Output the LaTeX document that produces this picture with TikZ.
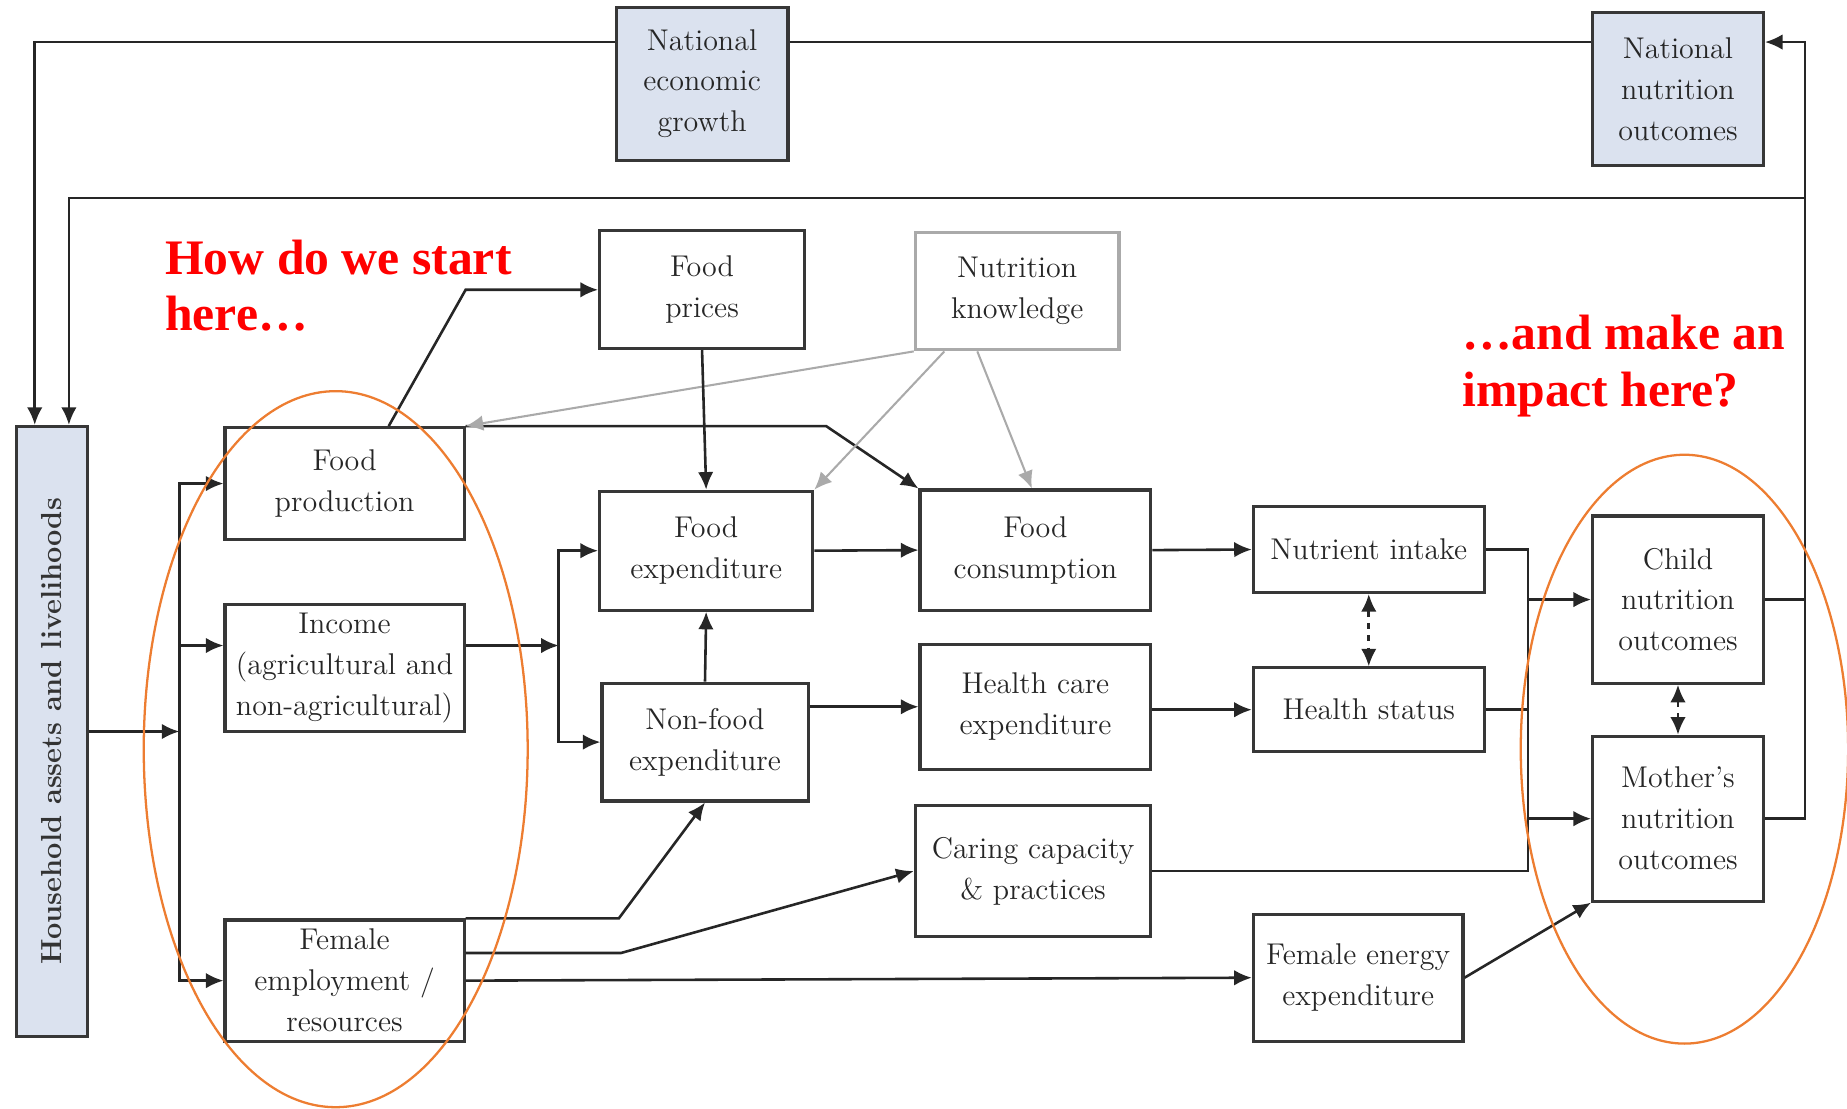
\documentclass[tikz,border=0pt]{standalone}
\usepackage{fontspec}
\newfontfamily\notefont{Liberation Serif}
\usetikzlibrary{arrows.meta}

\definecolor{natblue}{RGB}{219,226,239}
\definecolor{ringorange}{RGB}{237,125,49}
\definecolor{boxline}{RGB}{55,55,55}
\definecolor{softgrey}{RGB}{170,170,170}

\begin{document}
\begin{tikzpicture}[
        x=.02cm, y=-.02cm,
        >={Latex[length=8.5pt,width=7.5pt]},
        box/.style={draw=boxline, line width=1.5pt, align=center, inner sep=0pt,
            font=\fontsize{14.5}{19.8}\selectfont, text=black!85},
        natbox/.style={box, fill=natblue},
        greybox/.style={box, draw=softgrey},
        link/.style={line width=1.25pt, draw=black!85},
        softlink/.style={line width=1pt, draw=softgrey},
        note/.style={text=red, align=left, anchor=north west, inner sep=0pt,
            font=\notefont\bfseries\fontsize{24}{27.5}\selectfont},
        ring/.style={draw=ringorange, line width=1.1pt},
    ]
    \useasboundingbox (0, 0) rectangle (1568, 941);

    %% national level
    \node[natbox, minimum width=2.92cm, minimum height=2.6cm] (neg) at (596, 71) {National\\economic\\growth};
    \node[natbox, minimum width=2.9cm, minimum height=2.6cm] (nno) at (1424.5, 75.5) {National\\nutrition\\outcomes};

    %% household column
    \node[natbox, minimum width=1.2cm, minimum height=10.36cm] (hal) at (44, 621) {};
    \node[rotate=90, text=black!80, font=\bfseries\fontsize{14}{16}\selectfont] (haltxt) at (hal.center) {Household assets and livelihoods};

    %% the boxes
    \node[box, minimum width=3.48cm, minimum height=2cm] (fprice) at (596, 246) {Food\\prices};
    \node[greybox, minimum width=3.46cm, minimum height=2cm] (nknow) at (863.5, 247) {Nutrition\\knowledge};
    \node[box, minimum width=4.06cm, minimum height=1.9cm] (fprod) at (292.5, 410.5) {Food\\production};
    \node[box, minimum width=4.06cm, minimum height=2.16cm] (income) at (292.5, 567) {Income\\(agricultural and\\non-agricultural)};
    \node[box, minimum width=4.06cm, minimum height=2.06cm] (femp) at (292.5, 832.5) {Female\\employment /\\resources};
    \node[box, minimum width=3.62cm, minimum height=2.02cm] (fexp) at (599.5, 467.5) {Food\\expenditure};
    \node[box, minimum width=3.5cm, minimum height=2cm] (nfexp) at (598.5, 630) {Non-food\\expenditure};
    \node[box, minimum width=3.92cm, minimum height=2.04cm] (fcons) at (879, 467) {Food\\consumption};
    \node[box, minimum width=3.92cm, minimum height=2.12cm] (hcexp) at (879, 600) {Health care\\expenditure};
    \node[box, minimum width=4cm, minimum height=2.22cm] (caring) at (877, 739.5) {Caring capacity\\\& practices};
    \node[box, minimum width=3.92cm, minimum height=1.46cm] (nutr) at (1162, 466.5) {Nutrient intake};
    \node[box, minimum width=3.92cm, minimum height=1.42cm] (hstat) at (1162, 602.5) {Health status};
    \node[box, minimum width=3.56cm, minimum height=2.16cm] (fenergy) at (1153, 830) {Female energy\\expenditure};
    \node[box, minimum width=2.9cm, minimum height=2.84cm] (child) at (1424.5, 509) {Child\\nutrition\\outcomes};
    \node[box, minimum width=2.9cm, minimum height=2.8cm] (mother) at (1424.5, 695) {Mother's\\nutrition\\outcomes};

    %% the questions
    \node[note] (start) at (140, 203) {How do we start\\here…};
    \node[note] (impact) at (1241, 267) {…and make an\\impact here?};

    %% feedback loops along the top
    \coordinate (toprow) at ([yshift=-.62cm]neg.north east);
    \coordinate (toprowl) at ([yshift=-.62cm]neg.north west);
    \coordinate (rbus) at ([xshift=.68cm]mother.east);
    \coordinate (fback) at (0, 168);
    \draw[link] (toprow) -- (toprow -| nno.west);
    \draw[link, ->] (toprowl) -| ([xshift=-.29cm]hal.north);
    \draw[link] (child.east) -- (child.east -| rbus);
    \draw[link, ->] (mother.east) -- (rbus) |- (toprow -| nno.east);
    \draw[link, ->] (rbus |- fback) -| ([xshift=.29cm]hal.north);

    %% household into the three sources
    \coordinate (lbus) at ([xshift=1.54cm]hal.east);
    \coordinate (incl) at ([yshift=.38cm]income.west);
    \draw[link, ->] (hal.east) -- (lbus);
    \draw[link, ->] (lbus) |- (fprod.west);
    \draw[link, ->] (lbus) |- (femp.west);
    \draw[link, ->] (lbus |- incl) -- (incl);

    %% income splits into the two expenditures
    \coordinate (incr) at ([yshift=.38cm]income.east);
    \coordinate (ibus) at ([xshift=1.58cm]incr);
    \draw[link, ->] (incr) -- (ibus);
    \draw[link, ->] (ibus) |- (fexp.west);
    \draw[link, ->] (ibus) |- (nfexp.west);

    \draw[link, ->] ([xshift=.75cm]fprod.north) -- (fprod.east |- fprice.west) -- (fprice.west);
    \draw[link, ->] (fprod.north east) -- ++(306, 0) -- (fcons.north west);
    \draw[softlink, ->] (nknow.south west) -- (fprod.north east);
    \draw[softlink, ->] ([xshift=.52cm]nknow.south west) -- (fexp.north east);
    \draw[softlink, ->] ([xshift=1.08cm]nknow.south west) -- ([xshift=-.06cm]fcons.north);
    \draw[link, ->] (fprice.south) -- (fexp.north);
    \draw[link, ->] (nfexp.north) -- (fexp.south);
    \draw[link, ->] (fexp.east) -- (fcons.west);
    \draw[link, ->] (nfexp.east |- hcexp.west) -- (hcexp.west);
    \draw[link, ->] (fcons.east) -- (nutr.west);
    \draw[link, ->] (hcexp.east |- hstat.west) -- (hstat.west);
    \draw[link, <->, dashed] (nutr.south) -- (hstat.north);
    \draw[link, <->, dashed] (child.south) -- (mother.north);

    %% into the outcomes
    \coordinate (obus) at ([xshift=.72cm]nutr.east);
    \draw[link] (nutr.east) -| (obus |- caring.east) -- (caring.east);
    \draw[link] (hstat.east) -- (hstat.east -| obus);
    \draw[link, ->] (obus |- child.west) -- (child.west);
    \draw[link, ->] (obus |- mother.west) -- (mother.west);

    %% female employment
    \draw[link, ->] (femp.north east) -- ++(130, 0) -- (nfexp.south);
    \draw[link, ->] ([yshift=.47cm]femp.east) -- ++(132, 0) -- (caring.west);
    \draw[link, ->] (femp.east) -- (fenergy.west);
    \draw[link, ->] (fenergy.east) -- (mother.south west);

    %% where we start and where we land
    \draw[ring] (285, 636) ellipse [x radius=3.26cm, y radius=6.08cm];
    \draw[ring] (1430, 636) ellipse [x radius=2.78cm, y radius=5cm];
\end{tikzpicture}
\end{document}
